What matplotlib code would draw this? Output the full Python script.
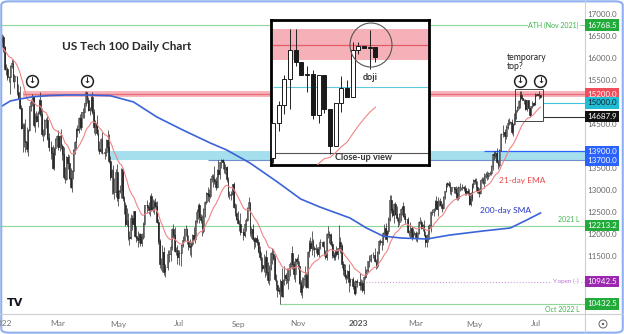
import matplotlib
matplotlib.use("Agg")
import matplotlib.pyplot as plt
import matplotlib.transforms as mtransforms
from matplotlib.patches import Ellipse, FancyBboxPatch, Rectangle
from matplotlib.lines import Line2D
import numpy as np
import pandas as pd

W, H = 624, 334
plt.rcParams['font.family'] = ['Lato', 'DejaVu Sans']

# ---- daily candles, US Tech 100 ----
dates = pd.bdate_range("2022-01-03", "2023-07-06")
first_open = 16380
closes = [
    # 2022 Jan
    16501, 16280, 15771, 15766, 15594, 15599, 15836, 15906, 15510, 15612, 15612, 15239, 15080, 14886, 14438, 14503, 14144, 14117, 13956, 14397, 14931,
    # Feb
    15020, 15155, 14500, 14700, 14600, 14780, 15060, 14750, 14290, 14300, 14620, 14620, 14210, 14000, 14000, 13870, 13530, 13970, 14180, 14240,
    # Mar
    14000, 14240, 14030, 13840, 13320, 13280, 13770, 13630, 13300, 13100, 13450, 13940, 14110, 14420, 14380, 14660, 14460, 14800, 14790, 15000, 15240, 15060, 14840,
    # Apr
    14860, 15130, 14790, 14450, 14540, 14320, 13960, 13900, 14190, 13870, 13870, 13890, 14170, 13990, 13680, 13320, 13480, 12970, 12980, 13430, 12850,
    # May
    13010, 13030, 13500, 12850, 12690, 12260, 12330, 11960, 11930, 12390, 12250, 12550, 11980, 11930, 11890, 12030, 11820, 11960, 12260, 12680, 12680, 12640,
    # Jun
    12560, 12890, 12590, 12640, 12760, 12660, 12300, 11860, 11330, 11340, 11620, 11160, 11270, 11270, 11570, 11560, 11730, 12140, 12010, 11640, 11660, 11500,
    # Jul
    11580, 11580, 11780, 11880, 12130, 12130, 11860, 11750, 11730, 11790, 11990, 11900, 12310, 12530, 12680, 12400, 12330, 12080, 12600, 12740, 12950,
    # Aug
    12930, 12890, 13280, 13340, 13280, 13230, 13090, 13470, 13380, 13650, 13700, 13660, 13490, 13550, 13270, 12910, 12900, 12930, 13150, 12640, 12510, 12370, 12270,
    # Sep
    12260, 12060, 12060, 11990, 12260, 12340, 12610, 12740, 12040, 12130, 11910, 11860, 11940, 11850, 11640, 11490, 11310, 11250, 11270, 11510, 11160, 10970,
    # Oct
    11240, 11600, 11560, 11480, 10990, 10870, 10740, 10730, 10960, 10620, 10980, 11080, 11020, 10980, 11230, 11340, 11580, 11330, 11120, 11450, 11410,
    # Nov
    11300, 10920, 10700, 10870, 11000, 11080, 10820, 11610, 11820, 11700, 11860, 11710, 11690, 11680, 11560, 11720, 11840, 11840, 11760, 11590, 11510, 12030,
    # Dec
    12030, 11990, 11790, 11550, 11500, 11640, 11570, 11710, 11840, 11740, 11330, 11210, 11060, 11040, 11190, 10940, 10990, 10990, 10830, 10680, 10960, 10942,
    # 2023 Jan
    10942, 10860, 10910, 10740, 11040, 11110, 11210, 11400, 11460, 11540, 11540, 11550, 11400, 11290, 11620, 11870, 11850, 11830, 12050, 12170, 11920, 12100,
    # Feb
    12360, 12800, 12570, 12460, 12700, 12470, 12380, 12300, 12480, 12580, 12650, 12440, 12360, 12360, 12060, 12060, 12160, 11960, 12040, 12040,
    # Mar
    11950, 12040, 12290, 12300, 12160, 12230, 12010, 11830, 11900, 12170, 12230, 12520, 12520, 12580, 12770, 12600, 12770, 12770, 12690, 12610, 12860, 12990, 13180,
    # Apr
    13170, 13130, 12990, 13080, 13080, 13040, 12960, 12840, 13100, 13080, 13080, 13090, 13070, 12960, 13010, 12960, 12710, 12810, 13160, 13250,
    # May
    13230, 13080, 13000, 12960, 13240, 13270, 13190, 13350, 13390, 13340, 13410, 13400, 13560, 13830, 13810, 13860, 13670, 13600, 13940, 14300, 14300, 14350, 14250,
    # Jun
    14460, 14550, 14560, 14570, 14330, 14520, 14660, 14830, 14914, 15037, 15176, 15121, 15057, 15060, 14867, 15057, 14895, 14720, 14922, 14994, 14954, 15176,
    # Jul
    15195, 15188, 15192, 15141,
]
# wick lengths beyond the body, one base-36 char per day, in units of 20 points
wick_unit = 20
upper_wicks = (
    "3216311552" "00af322ph10"
    "3204621975" "1245079112"
    "72928b139b" "1111415040" "214"
    "3164494918" "041bf615g3" "9"
    "151123e874" "300b811420" "06"
    "5139246337" "8540552169" "36"
    "4015151782" "2a13124612" "1"
    "76122e41c0" "1113124413" "4a9"
    "3c05121613" "62133569f1" "8b"
    "415636542e" "1b3b121841" "3"
    "85392b4137" "b325203015" "31"
    "93343150j6" "3463172036" "12"
    "0a53191141" "0383112214" "51"
    "2552139212" "1530337263"
    "3115216463" "1142165142" "110"
    "1341014614" "1413134811"
    "2373122323" "1211426211" "073"
    "2451316011" "5502100003" "22"
    "1040"
)
lower_wicks = (
    "561746k229" "03011s7b482"
    "6428271228" "2925071389"
    "3547252612" "6958832466" "331"
    "6227922321" "075423j286" "4"
    "a394b33481" "7215844321" "07"
    "4623821346" "9360397341" "58"
    "90e318349b" "2142863529" "2"
    "8724933135" "6845324511" "421"
    "9305281235" "297423834b" "43"
    "52b22673f2" "2673a84569" "3"
    "4237491153" "8294232023" "34"
    "5924332637" "46372c5031" "26"
    "0652423264" "0313234935" "14"
    "4242913648" "6250146412"
    "4512132553" "7834218624" "121"
    "4234041224" "3343331225"
    "3425132635" "3224532531" "048"
    "3232241122" "7104121202" "00"
    "1051"
)

ema_seed = 16200
# 200-day SMA
sma_dates = ["2022-01-03", "2022-01-11", "2022-01-20", "2022-02-03", "2022-02-21", "2022-03-09",
             "2022-03-30", "2022-04-22", "2022-05-17", "2022-06-09", "2022-07-06", "2022-08-03",
             "2022-08-19", "2022-09-13", "2022-10-11", "2022-11-03", "2022-11-23", "2022-12-23",
             "2023-01-10", "2023-01-26", "2023-02-14", "2023-03-13", "2023-04-05", "2023-05-09",
             "2023-06-06", "2023-06-22", "2023-07-06"]
sma_values = [14930, 15045, 15091, 15143, 15170, 15182, 15182, 15166, 15023, 14682, 14386, 14091,
              13932, 13636, 13205, 12818, 12636, 12386, 12159, 11977, 11932, 11909, 12000, 12091,
              12159, 12341, 12500]

# levels
ath = 16768.5
resistance = 15200.0
res_band = (15130, 15275)
res_start = "2022-01-24"
support = 15000.0
june_low = 14687.9
sup_band = (13700, 13900)
sup_band_start = "2022-04-22"
line_13700_start = "2022-08-01"
line_13900_start = "2023-05-10"
low_2021 = 12213.2
y_open = 10942.5
y_open_start = "2023-01-03"
oct_low = 10432.5
oct_low_start = "2022-10-13"
arrow_dates = ["2022-02-02", "2022-03-30", "2023-06-15", "2023-07-06"]
arrow_level = 15500
closeup_start = "2023-06-12"

month_ticks = ["2022-01-03", "2022-03-01", "2022-05-02", "2022-07-01", "2022-09-01", "2022-11-01",
               "2023-01-02", "2023-03-01", "2023-05-01", "2023-07-03"]
month_labels = ["2022", "Mar", "May", "Jul", "Sep", "Nov", "2023", "Mar", "May", "Jul"]
# scale labels that are not hidden behind a price tag
price_ticks = [17000, 16500, 16000, 15500, 14500, 13500, 13000, 12500, 12000, 11500]
price_tags = [(ath, '#22ab3a', 'white'), (resistance, '#ef4f5c', 'white'), (support, '#22bcd4', '#10222a'),
              (june_low, '#111111', 'white'), (sup_band[1], '#2962ff', 'white'), (sup_band[0], '#2962ff', 'white'),
              (low_2021, '#22ab3a', 'white'), (y_open, '#9c27b0', 'white'), (oct_low, '#22ab3a', 'white')]

# ---- derived ----
assert len(closes) == len(dates) == len(upper_wicks) == len(lower_wicks)
c = np.array(closes, dtype=float)
o = np.r_[first_open, c[:-1]]
hi = np.maximum(o, c) + np.array([int(ch, 36) for ch in upper_wicks]) * wick_unit
lo = np.minimum(o, c) - np.array([int(ch, 36) for ch in lower_wicks]) * wick_unit
x = np.arange(len(dates))
ema = pd.Series(np.r_[ema_seed, c]).ewm(span=21, adjust=False).mean().values[1:]


def idx(d):
    return dates.get_indexer(pd.to_datetime(d if isinstance(d, list) else [d]))


def candles(a, width, lw_edge, lw_wick):
    a.vlines(x, lo, hi, color='#222222', lw=lw_wick, zorder=3)
    up = c >= o
    a.bar(x[up], (c - o)[up], bottom=o[up], width=width, color='white', edgecolor='#1a1a1a', lw=lw_edge, zorder=4)
    a.bar(x[~up], (o - c)[~up], bottom=c[~up], width=width, color='#1a1a1a', edgecolor='#1a1a1a', lw=lw_edge, zorder=4)


fig = plt.figure(figsize=(W / 100, H / 100), dpi=100)
fig.patch.set_facecolor('white')
ax = fig.add_axes([0, 20 / H, 585 / W, 311 / H])
xmax = 425.5
ax.set_xlim(-1.46, xmax)
ax.set_ylim(10204.5, 17272.7)
ax.axis('off')

# zones and levels
rs = idx(res_start)[0]
ax.fill_between([rs, xmax], res_band[0], res_band[1], color='#f7b5bb', lw=0, zorder=1)
ax.hlines(resistance, rs, xmax, color='#e9707b', lw=1.0, zorder=1.5)
ss = idx(sup_band_start)[0]
ax.fill_between([ss, xmax], sup_band[0], sup_band[1], color='#a5deec', lw=0, zorder=1)
ax.hlines(sup_band[0], idx(line_13700_start)[0], xmax, color='#6f8fcf', lw=0.8, zorder=1.5)
ax.hlines(sup_band[1], idx(line_13900_start)[0], xmax, color='#2962ff', lw=0.9, zorder=1.5)
ax.axhline(ath, color='#8fd89a', lw=0.8, zorder=1)
ax.axhline(low_2021, color='#8fd89a', lw=0.8, zorder=1)
ax.hlines(oct_low, idx(oct_low_start)[0], xmax, color='#8fd89a', lw=0.8, zorder=1)
ax.hlines(y_open, idx(y_open_start)[0], xmax, color='#d39be0', lw=0.8, ls=':', zorder=1)
last = len(x) - 1
ax.hlines(support, last + 1.5, xmax, color='#3fc2dc', lw=0.8, zorder=1.5)
ax.hlines(june_low, last + 1.5, xmax, color='#333333', lw=0.8, zorder=1.5)

candles(ax, 0.6, 0.4, 0.5)
ax.plot(x, ema, color='#f08585', lw=0.8, zorder=5)
ax.plot(idx(sma_dates), sma_values, color='#3a63d8', lw=1.2, zorder=5)

# box round the recent top
cs = idx(closeup_start)[0]
ax.add_patch(Rectangle((cs - 0.5, lo[cs:].min() - 40), last - cs + 2.5, hi[cs:].max() - lo[cs:].min() + 80,
                       fill=False, ec='#444444', lw=0.7, zorder=6))

# circled arrows
ai = idx(arrow_dates)
ax.plot(ai, [arrow_level] * len(ai), 'o', ms=8.5, mfc='white', mec='#222222', mew=1.1, zorder=7)
for i in ai:
    ax.text(i, arrow_level, '\u2193', ha='center', va='center', fontsize=6, weight='bold',
            family='DejaVu Sans', color='#222222', zorder=8)

# right price scale
ty = mtransforms.blended_transform_factory(fig.transFigure, ax.transData)
for p in price_ticks:
    fig.text(602 / W, p, f"{p:.1f}", transform=ty, ha='center', va='center', fontsize=5.8, color='#666666', zorder=2)
for p, fc, tc in price_tags:
    fig.text(602 / W, p, f"{p:.1f}", transform=ty, ha='center', va='center', fontsize=5.8, color=tc, zorder=3,
             bbox=dict(boxstyle='square,pad=0.28', fc=fc, ec='none'))

# time scale
tx = mtransforms.blended_transform_factory(ax.transData, fig.transFigure)
for d, lab in zip(idx(month_ticks), month_labels):
    bold = lab == "2023"
    fig.text(d, 1 - 324 / H, lab, transform=tx, ha='center', va='center', fontsize=6,
             color='#555555' if bold else '#777777', weight='bold' if bold else 'normal')

# level labels
g = '#3cb44b'
fig.text(579 / W, 1 - 25 / H, "ATH (Nov 2021)", ha='right', va='center', fontsize=5, color=g,
         bbox=dict(boxstyle='square,pad=0.1', fc='white', ec='none'))
fig.text(579 / W, 1 - 219 / H, "2021 L", ha='right', va='center', fontsize=5, color=g)
fig.text(580 / W, 1 - 309 / H, "Oct 2022 L", ha='right', va='center', fontsize=5, color=g)
fig.text(579 / W, 1 - 281 / H, "Y open (-)", ha='right', va='center', fontsize=4.5, color='#b575cc',
         bbox=dict(boxstyle='square,pad=0.1', fc='white', ec='none'))

# annotations
fig.text(127 / W, 1 - 47 / H, "US Tech 100 Daily Chart", ha='center', va='center', fontsize=8.5,
         weight='bold', color='#2a2a2a')
fig.text(507 / W, 1 - 62 / H, "temporary\ntop?", ha='left', va='center', fontsize=6.2, color='#222222',
         linespacing=0.95)
fig.text(499 / W, 1 - 181 / H, "21-day EMA", ha='left', va='center', fontsize=6, color='#e84a4a')
fig.text(480 / W, 1 - 210 / H, "200-day SMA", ha='left', va='center', fontsize=6, color='#2535c8')
fig.text(15 / W, 1 - 303 / H, "TV", ha='center', va='center', fontsize=8, weight='heavy',
         family='DejaVu Sans', color='#131722')

# ---- close-up inset ----
axin = fig.add_axes([271 / W, 1 - 165 / H, 158 / W, 145 / H])
axin.set_facecolor('white')
axin.set_xlim(cs - 0.35, cs + 27.4)
axin.set_ylim(14629, 15319)
axin.set_xticks([])
axin.set_yticks([])
for s in axin.spines.values():
    s.set_linewidth(2)
    s.set_color('black')
axin.axhspan(res_band[0], res_band[1], color='#f6b1b8', lw=0, zorder=1)
axin.axhline(resistance, color='#e25c68', lw=0.9, zorder=1.5)
lo_i = cs + int(np.argmin(lo[cs:]))
axin.hlines(support, lo_i, cs + 30, color='#5fc9e0', lw=0.8, zorder=1.5)
axin.hlines(june_low, lo_i, cs + 30, color='#555555', lw=0.8, zorder=1.5)
candles(axin, 0.7, 0.7, 0.7)
axin.plot(x, ema, color='#f08585', lw=0.8, zorder=5)

fig.text(364 / W, 1 - 157 / H, "Close-up view", ha='center', va='center', fontsize=6.5,
         weight='bold', color='#333333')
fig.text(370 / W, 1 - 78 / H, "doji", ha='center', va='center', fontsize=6.5, weight='bold', color='#333333')
fig.add_artist(Ellipse((371 / W, 1 - 45 / H), 42 / W, 44 / H, transform=fig.transFigure,
                       fill=False, ec='#555555', lw=0.8))

# frame, separators, settings icon
fig.add_artist(Line2D([0, 1], [20 / H, 20 / H], transform=fig.transFigure, color='#cfcfcf', lw=0.8))
fig.add_artist(Line2D([585 / W, 585 / W], [0, 1], transform=fig.transFigure, color='#cfcfcf', lw=0.8))
fig.add_artist(Ellipse((603 / W, 1 - 324 / H), 8 / W, 8 / H, transform=fig.transFigure, fill=False,
                       ec='#666666', lw=0.7))
fig.add_artist(Ellipse((603 / W, 1 - 324 / H), 2.5 / W, 2.5 / H, transform=fig.transFigure, fc='#666666',
                       ec='none'))
fig.add_artist(FancyBboxPatch((0.002, 0.004), 0.996, 0.992, boxstyle='round,pad=0,rounding_size=0.012',
                              transform=fig.transFigure, fill=False, ec='#8fb0ee', lw=1.5))

fig.savefig("out.png", dpi=100)
